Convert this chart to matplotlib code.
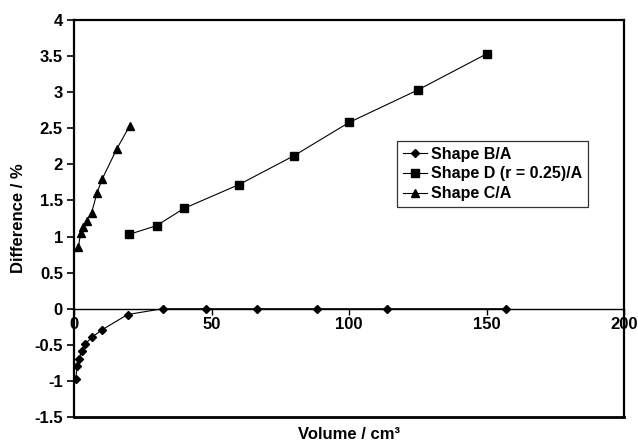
import matplotlib
matplotlib.use("Agg")
import matplotlib.pyplot as plt

plt.rcParams['font.family'] = ['Liberation Sans', 'DejaVu Sans']
plt.rcParams['font.weight'] = 'bold'

# Shape B/A
b_x = [0.6, 1.2, 1.9, 2.8, 4.0, 6.7, 10.3, 19.5, 32.3, 47.9, 66.5, 88.4, 113.8, 157.0]
b_y = [-0.98, -0.79, -0.69, -0.58, -0.49, -0.39, -0.29, -0.08, 0.0, 0.0, 0.0, 0.0, 0.0, 0.0]

# Shape D (r = 0.25)/A
d_x = [20, 30, 40, 60, 80, 100, 125, 150]
d_y = [1.03, 1.15, 1.39, 1.72, 2.12, 2.58, 3.03, 3.53]

# Shape C/A
c_x = [1.6, 2.4, 3.4, 4.6, 6.4, 8.4, 10.3, 15.5, 20.2]
c_y = [0.85, 1.05, 1.13, 1.22, 1.33, 1.61, 1.80, 2.21, 2.53]

xticks = [0, 50, 100, 150, 200]
yticks = [-1.5, -1, -0.5, 0, 0.5, 1, 1.5, 2, 2.5, 3, 3.5, 4]

fig = plt.figure(figsize=(6.38, 4.43), dpi=100)
ax = fig.add_axes([74 / 638, 1 - 417 / 443, 550 / 638, 397 / 443])

ax.plot(b_x, b_y, color='black', lw=0.8, marker='D', ms=4.3, label='Shape B/A')
ax.plot(d_x, d_y, color='black', lw=0.8, marker='s', ms=5.6, label='Shape D (r = 0.25)/A')
ax.plot(c_x, c_y, color='black', lw=0.8, marker='^', ms=6, label='Shape C/A')

ax.set_xlim(0, 200)
ax.set_ylim(-1.5, 4)
ax.set_xticks(xticks)
ax.set_yticks(yticks)
ax.set_yticklabels([f"{v:g}" for v in yticks])

for s in ['left', 'top', 'right']:
    ax.spines[s].set_linewidth(1.6)
ax.spines['bottom'].set_position(('data', 0))
ax.spines['bottom'].set_linewidth(1.0)
ax.axhline(-1.5, color='black', lw=2.0, clip_on=False)

ax.tick_params(axis='x', direction='out', length=4, width=1, labelsize=12, pad=2)
ax.tick_params(axis='y', direction='out', length=5, width=1.2, labelsize=12, pad=3)

ax.set_xlabel('Volume / cm³', fontsize=12, fontweight='bold')
ax.xaxis.set_label_coords(0.5, -0.025)
ax.set_ylabel('Difference / %', fontsize=12, fontweight='bold', labelpad=6)

leg = ax.legend(loc='upper left', bbox_to_anchor=(323 / 550, 1 - 121 / 397),
                fontsize=11.5, frameon=True, fancybox=False, handlelength=1.5,
                handletextpad=0.3, borderpad=0.35, labelspacing=0.3,
                borderaxespad=0)
leg.get_frame().set_edgecolor('black')
leg.get_frame().set_linewidth(0.9)

fig.savefig('out.png', dpi=100)
